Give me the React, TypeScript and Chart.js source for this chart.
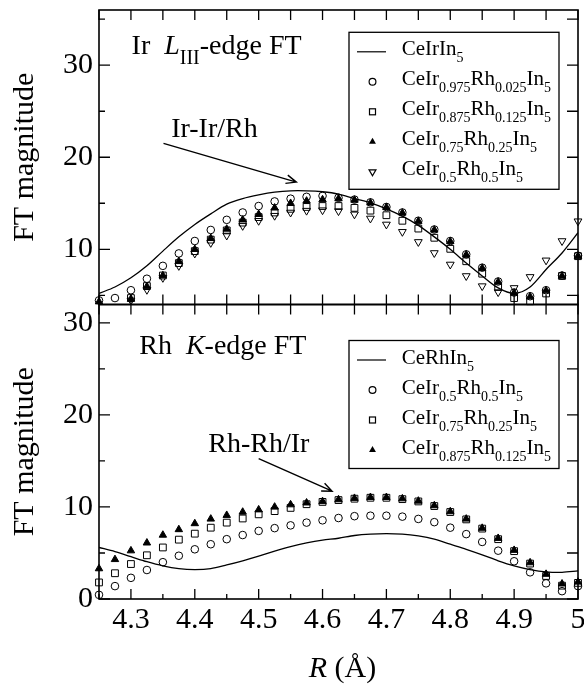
import React, { useEffect, useRef } from 'react';
import { Chart, registerables } from 'chart.js';

Chart.register(...registerables);

// ---------- data ----------
const R = [
  4.25, 4.275, 4.3, 4.325, 4.35, 4.375, 4.4, 4.425, 4.45, 4.475, 4.5, 4.525, 4.55, 4.575, 4.6, 4.625,
  4.65, 4.675, 4.7, 4.725, 4.75, 4.775, 4.8, 4.825, 4.85, 4.875, 4.9, 4.925, 4.95, 4.975, 5.0,
];

// Ir L_III-edge panel
const IR_CeIrIn5 = [
  5.2, 5.9, 6.9, 8.2, 9.8, 11.35, 12.7, 13.85, 14.9, 15.5, 15.9, 16.2, 16.35, 16.35, 16.25, 16.0,
  15.5, 15.05, 14.4, 13.6, 12.6, 11.35, 10.0, 8.5, 7.1, 5.8, 5.2, 5.9, 7.8, 9.6, 11.8,
];
const IR_Ir0975 = [
  4.45, 4.7, 5.55, 6.8, 8.2, 9.55, 10.9, 12.1, 13.2, 14.0, 14.7, 15.2, 15.5, 15.7, 15.8, 15.6,
  15.4, 15.1, 14.6, 14.0, 13.1, 12.15, 10.9, 9.45, 8.0, 6.5, 5.3, 4.9, 5.55, 7.15, 9.3,
];
const IR_Ir0875 = [
  null, null, 4.7, 6.0, 7.15, 8.5, 9.8, 11.05, 12.05, 12.9, 13.5, 14.0, 14.4, 14.6, 14.7, 14.7,
  14.5, 14.2, 13.7, 13.1, 12.25, 11.25, 10.05, 8.7, 7.35, 5.9, 4.7, 4.35, 5.2, 7.1, 9.25,
];
const IR_Ir075 = [
  4.3, null, 4.6, 5.95, 7.15, 8.7, 10.0, 11.2, 12.2, 13.2, 13.8, 14.5, 15.0, 15.25, 15.4, 15.5,
  15.35, 15.05, 14.55, 13.95, 13.05, 12.1, 10.85, 9.4, 7.95, 6.45, 5.25, 4.85, 5.5, 7.1, 9.25,
];
const IR_Ir05 = [
  null, null, 4.45, 5.6, 6.9, 8.2, 9.55, 10.7, 11.5, 12.55, 13.1, 13.65, 14.0, 14.2, 14.25, 14.15,
  13.8, 13.35, 12.7, 11.9, 10.8, 9.6, 8.35, 7.1, 6.0, 5.35, 5.8, 7.0, 8.8, 10.9, 13.05,
];

// Rh K-edge panel
const RH_CeRhIn5 = [
  5.6, 5.15, 4.6, 4.05, 3.6, 3.3, 3.2, 3.3, 3.7, 4.15, 4.65, 5.2, 5.7, 6.1, 6.4, 6.6,
  6.9, 7.05, 7.1, 7.05, 6.85, 6.5, 5.95, 5.4, 4.8, 4.15, 3.6, 3.2, 2.95, 2.9, 3.05,
];
const RH_Ir05 = [
  0.45, 1.4, 2.3, 3.15, 4.0, 4.7, 5.4, 5.95, 6.5, 6.95, 7.4, 7.7, 8.0, 8.3, 8.55, 8.8,
  9.0, 9.05, 9.05, 8.95, 8.7, 8.35, 7.75, 7.05, 6.2, 5.25, 4.1, 2.9, 1.7, 0.85, 1.4,
];
const RH_Ir075 = [
  1.8, 2.8, 3.8, 4.75, 5.6, 6.45, 7.1, 7.75, 8.3, 8.75, 9.2, 9.55, 9.9, 10.3, 10.55, 10.75,
  10.9, 11.0, 11.0, 10.85, 10.6, 10.1, 9.45, 8.65, 7.65, 6.5, 5.2, 3.85, 2.5, 1.45, 1.75,
];
const RH_Ir0875 = [
  3.3, 4.3, 5.25, 6.1, 6.95, 7.55, 8.2, 8.7, 9.1, 9.45, 9.7, 10.0, 10.25, 10.45, 10.6, 10.8,
  10.95, 11.05, 11.05, 10.9, 10.65, 10.15, 9.5, 8.7, 7.7, 6.6, 5.3, 3.95, 2.7, 1.65, 1.85,
];

// ticks
const X_MAJOR = [4.3, 4.4, 4.5, 4.6, 4.7, 4.8, 4.9, 5.0];
const X_MINOR = [4.25, 4.35, 4.45, 4.55, 4.65, 4.75, 4.85, 4.95];
const TOP_Y_MAJOR = [10, 20, 30];
const TOP_Y_MINOR = [5, 15, 25, 35];
const BOT_Y_MAJOR = [0, 10, 20, 30];
const BOT_Y_MINOR = [5, 15, 25];

// ---------- text ----------
type Seg = { t: string; sub?: boolean; it?: boolean };
const formula = (ir: string, rh: string): Seg[] => [
  { t: 'CeIr' }, { t: ir, sub: true }, { t: 'Rh' }, { t: rh, sub: true }, { t: 'In' }, { t: '5', sub: true },
];
const TOP_LEGEND: { kind: string; segs: Seg[] }[] = [
  { kind: 'line', segs: [{ t: 'CeIrIn' }, { t: '5', sub: true }] },
  { kind: 'circle', segs: formula('0.975', '0.025') },
  { kind: 'rect', segs: formula('0.875', '0.125') },
  { kind: 'tri', segs: formula('0.75', '0.25') },
  { kind: 'tridown', segs: formula('0.5', '0.5') },
];
const BOT_LEGEND: { kind: string; segs: Seg[] }[] = [
  { kind: 'line', segs: [{ t: 'CeRhIn' }, { t: '5', sub: true }] },
  { kind: 'circle', segs: formula('0.5', '0.5') },
  { kind: 'rect', segs: formula('0.75', '0.25') },
  { kind: 'tri', segs: formula('0.875', '0.125') },
];
const TOP_TITLE: Seg[] = [{ t: 'Ir  ' }, { t: 'L', it: true }, { t: 'III', sub: true }, { t: '-edge FT' }];
const BOT_TITLE: Seg[] = [{ t: 'Rh  ' }, { t: 'K', it: true }, { t: '-edge FT' }];

const SERIF = "'Liberation Serif', 'Times New Roman', Times, serif";

function drawRich(ctx: CanvasRenderingContext2D, segs: Seg[], x: number, y: number, size: number, subSize: number, subDy: number) {
  let cx = x;
  ctx.textAlign = 'left';
  ctx.textBaseline = 'alphabetic';
  for (const s of segs) {
    const fs = s.sub ? subSize : size;
    ctx.font = `${s.it ? 'italic ' : ''}${fs}px ${SERIF}`;
    ctx.fillText(s.t, cx, y + (s.sub ? subDy : 0));
    cx += ctx.measureText(s.t).width;
  }
  return cx - x;
}

function drawMarker(ctx: CanvasRenderingContext2D, kind: string, x: number, y: number, r: number) {
  ctx.beginPath();
  if (kind === 'circle') {
    ctx.arc(x, y, r, 0, Math.PI * 2);
    ctx.stroke();
  } else if (kind === 'rect') {
    ctx.strokeRect(x - r, y - r, 2 * r, 2 * r);
  } else if (kind === 'tri' || kind === 'tridown') {
    const up = kind === 'tri';
    for (let i = 0; i < 3; i++) {
      const a = -Math.PI / 2 + (i * 2 * Math.PI) / 3;
      const px = x + r * Math.cos(a);
      const py = y + (up ? 1 : -1) * r * Math.sin(a);
      if (i === 0) ctx.moveTo(px, py); else ctx.lineTo(px, py);
    }
    ctx.closePath();
    if (up) ctx.fill(); else ctx.stroke();
  }
}

function arrow(ctx: CanvasRenderingContext2D, x0: number, y0: number, x1: number, y1: number) {
  ctx.beginPath();
  ctx.moveTo(x0, y0);
  ctx.lineTo(x1, y1);
  const a = Math.atan2(y1 - y0, x1 - x0);
  const L = 11;
  ctx.moveTo(x1 - L * Math.cos(a - 0.4), y1 - L * Math.sin(a - 0.4));
  ctx.lineTo(x1, y1);
  ctx.lineTo(x1 - L * Math.cos(a + 0.4), y1 - L * Math.sin(a + 0.4));
  ctx.stroke();
}

const decor = {
  id: 'decor',
  afterDatasetsDraw(chart: any) {
    const ctx: CanvasRenderingContext2D = chart.ctx;
    const xs = chart.scales.x;
    const yt = chart.scales.yTop;
    const yb = chart.scales.yBot;
    const L = chart.chartArea.left;
    const Rt = chart.chartArea.right;
    ctx.save();
    ctx.strokeStyle = '#000';
    ctx.fillStyle = '#000';
    const panels: [any, number[], number[], boolean][] = [
      [yt, TOP_Y_MAJOR, TOP_Y_MINOR, false],
      [yb, BOT_Y_MAJOR, BOT_Y_MINOR, true],
    ];
    for (const [ys, ymaj, ymin, isBottom] of panels) {
      const T = ys.top;
      const B = ys.bottom;
      ctx.lineWidth = 1.6;
      ctx.strokeRect(L, T, Rt - L, B - T);
      ctx.lineWidth = 1.3;
      ctx.beginPath();
      for (const v of X_MAJOR.concat(X_MINOR)) {
        const px = xs.getPixelForValue(v);
        const minor = X_MINOR.includes(v);
        ctx.moveTo(px, T);
        ctx.lineTo(px, T + 10);
        ctx.moveTo(px, B);
        ctx.lineTo(px, B - (isBottom && minor ? 5 : 10));
      }
      for (const v of ymaj.concat(ymin)) {
        const py = ys.getPixelForValue(v);
        const minor = ymin.includes(v);
        ctx.moveTo(L, py);
        ctx.lineTo(L + (minor ? 6 : 11), py);
        ctx.moveTo(Rt, py);
        ctx.lineTo(Rt - 11, py);
      }
      ctx.stroke();

      // y title
      ctx.save();
      ctx.translate(33, (T + B) / 2);
      ctx.rotate(-Math.PI / 2);
      ctx.font = `30px ${SERIF}`;
      ctx.textAlign = 'center';
      ctx.textBaseline = 'alphabetic';
      ctx.fillText('FT magnitude', 0, 0);
      ctx.restore();
    }

    // panel titles
    drawRich(ctx, TOP_TITLE, xs.getPixelForValue(4.301), yt.getPixelForValue(31.17), 28, 20, 10);
    drawRich(ctx, BOT_TITLE, xs.getPixelForValue(4.313), yb.getPixelForValue(26.65), 28, 20, 10);

    // annotations
    ctx.font = `28px ${SERIF}`;
    ctx.textAlign = 'left';
    ctx.fillText('Ir-Ir/Rh', xs.getPixelForValue(4.363), yt.getPixelForValue(22.2));
    ctx.fillText('Rh-Rh/Ir', xs.getPixelForValue(4.421), yb.getPixelForValue(15.98));
    ctx.lineWidth = 1.4;
    arrow(ctx, xs.getPixelForValue(4.351), yt.getPixelForValue(21.5), xs.getPixelForValue(4.559), yt.getPixelForValue(17.3));
    arrow(ctx, xs.getPixelForValue(4.5), yb.getPixelForValue(15.26), xs.getPixelForValue(4.615), yb.getPixelForValue(11.71));

    // legends
    const legends: [any, { kind: string; segs: Seg[] }[], number, number][] = [
      [yt, TOP_LEGEND, 22.3, 157],
      [yb, BOT_LEGEND, 36, 128],
    ];
    for (const [ys, items, dy, h] of legends) {
      const bx = L + 250;
      const by = ys.top + dy;
      const bw = 210;
      ctx.fillStyle = '#fff';
      ctx.fillRect(bx, by, bw, h);
      ctx.fillStyle = '#000';
      ctx.lineWidth = 1.3;
      ctx.strokeRect(bx, by, bw, h);
      items.forEach((it, i) => {
        const base = by + 23 + i * 30;
        const cy = base - 3.5;
        const cx = bx + 23.5;
        ctx.lineWidth = 1.2;
        if (it.kind === 'line') {
          ctx.beginPath();
          ctx.moveTo(bx + 8, cy);
          ctx.lineTo(bx + 37, cy);
          ctx.stroke();
        } else {
          drawMarker(ctx, it.kind, cx, cy, it.kind === 'rect' ? 3 : it.kind === 'circle' ? 3.4 : 4);
        }
        drawRich(ctx, it.segs, bx + 52.7, base, 21, 14, 7);
      });
    }

    // x title
    ctx.font = `italic 30px ${SERIF}`;
    const wR = ctx.measureText('R').width;
    ctx.font = `30px ${SERIF}`;
    const wRest = ctx.measureText(' (Å)').width;
    const x0 = (L + Rt) / 2 + 4 - (wR + wRest) / 2;
    drawRich(ctx, [{ t: 'R', it: true }, { t: ' (Å)' }], x0, 677, 30, 30, 0);

    ctx.restore();
  },
};

function pts(ys: (number | null)[]) {
  return R.map((x, i) => ({ x, y: ys[i] }));
}

export default function App() {
  const ref = useRef<HTMLCanvasElement>(null);
  useEffect(() => {
    if (!ref.current) return;
    const lineDs = (label: string, ys: number[], axis: string) => ({
      label, data: pts(ys), yAxisID: axis, showLine: true, borderColor: '#000', borderWidth: 1.3,
      pointRadius: 0, tension: 0.3, fill: false, order: 5,
    });
    const ptDs = (label: string, ys: (number | null)[], axis: string, style: string, r: number, filled: boolean, rot = 0, order = 1) => ({
      label, data: pts(ys), yAxisID: axis, showLine: false, pointStyle: style, pointRadius: r,
      pointRotation: rot, pointBorderWidth: 1, borderColor: '#000', pointBorderColor: '#000',
      pointBackgroundColor: filled ? '#000' : 'rgba(0,0,0,0)', backgroundColor: filled ? '#000' : 'rgba(0,0,0,0)',
      clip: false, order,
    });
    const yFit = (s: any) => { s.width = 99; s.paddingTop = 0; s.paddingBottom = 0; };
    const chart = new Chart(ref.current, {
      type: 'scatter',
      data: {
        datasets: [
          lineDs('CeIrIn5', IR_CeIrIn5, 'yTop'),
          ptDs('CeIr0.975Rh0.025In5', IR_Ir0975, 'yTop', 'circle', 3.8, false, 0, 2),
          ptDs('CeIr0.875Rh0.125In5', IR_Ir0875, 'yTop', 'rect', 4.8, false, 0, 3),
          ptDs('CeIr0.75Rh0.25In5', IR_Ir075, 'yTop', 'triangle', 4.3, true, 0, 1),
          ptDs('CeIr0.5Rh0.5In5', IR_Ir05, 'yTop', 'triangle', 4.5, false, 180, 4),
          lineDs('CeRhIn5', RH_CeRhIn5, 'yBot'),
          ptDs('CeIr0.5Rh0.5In5 (Rh)', RH_Ir05, 'yBot', 'circle', 3.8, false, 0, 2),
          ptDs('CeIr0.75Rh0.25In5 (Rh)', RH_Ir075, 'yBot', 'rect', 4.8, false, 0, 3),
          ptDs('CeIr0.875Rh0.125In5 (Rh)', RH_Ir0875, 'yBot', 'triangle', 4.3, true, 0, 1),
        ] as any,
      },
      options: {
        responsive: false,
        animation: false,
        devicePixelRatio: 1,
        layout: { padding: { top: 10, right: 6, left: 0, bottom: 0 } },
        plugins: { legend: { display: false }, tooltip: { enabled: false } },
        scales: {
          x: {
            type: 'linear', position: 'bottom', min: 4.25, max: 5,
            grid: { display: false, drawTicks: false }, border: { display: false },
            ticks: {
              color: '#000', padding: 3, font: { family: SERIF, size: 30 }, maxRotation: 0, autoSkip: false,
              callback: (v: any) => (Math.abs(v - 5) < 1e-9 ? '5' : Number(v).toFixed(1)),
            },
            afterBuildTicks: (s: any) => { s.ticks = X_MAJOR.map((v) => ({ value: v })); },
            afterFit: (s: any) => { s.height = 88; s.paddingLeft = 0; s.paddingRight = 0; },
          },
          yBot: {
            type: 'linear', position: 'left', stack: 'panels', stackWeight: 1, min: 0, max: 32,
            grid: { display: false, drawTicks: false }, border: { display: false },
            ticks: { color: '#000', padding: 6, font: { family: SERIF, size: 30 } },
            afterBuildTicks: (s: any) => { s.ticks = BOT_Y_MAJOR.map((v) => ({ value: v })); },
            afterFit: yFit,
          },
          yTop: {
            type: 'linear', position: 'left', stack: 'panels', stackWeight: 1, min: 4, max: 36,
            grid: { display: false, drawTicks: false }, border: { display: false },
            ticks: { color: '#000', padding: 6, font: { family: SERIF, size: 30 } },
            afterBuildTicks: (s: any) => { s.ticks = TOP_Y_MAJOR.map((v) => ({ value: v })); },
            afterFit: yFit,
          },
        } as any,
      },
      plugins: [decor],
    });
    return () => chart.destroy();
  }, []);
  return (
    <div style={{ position: 'fixed', left: 0, top: 0, width: 584, height: 687, background: '#fff' }}>
      <canvas ref={ref} width={584} height={687} style={{ display: 'block' }} />
    </div>
  );
}
